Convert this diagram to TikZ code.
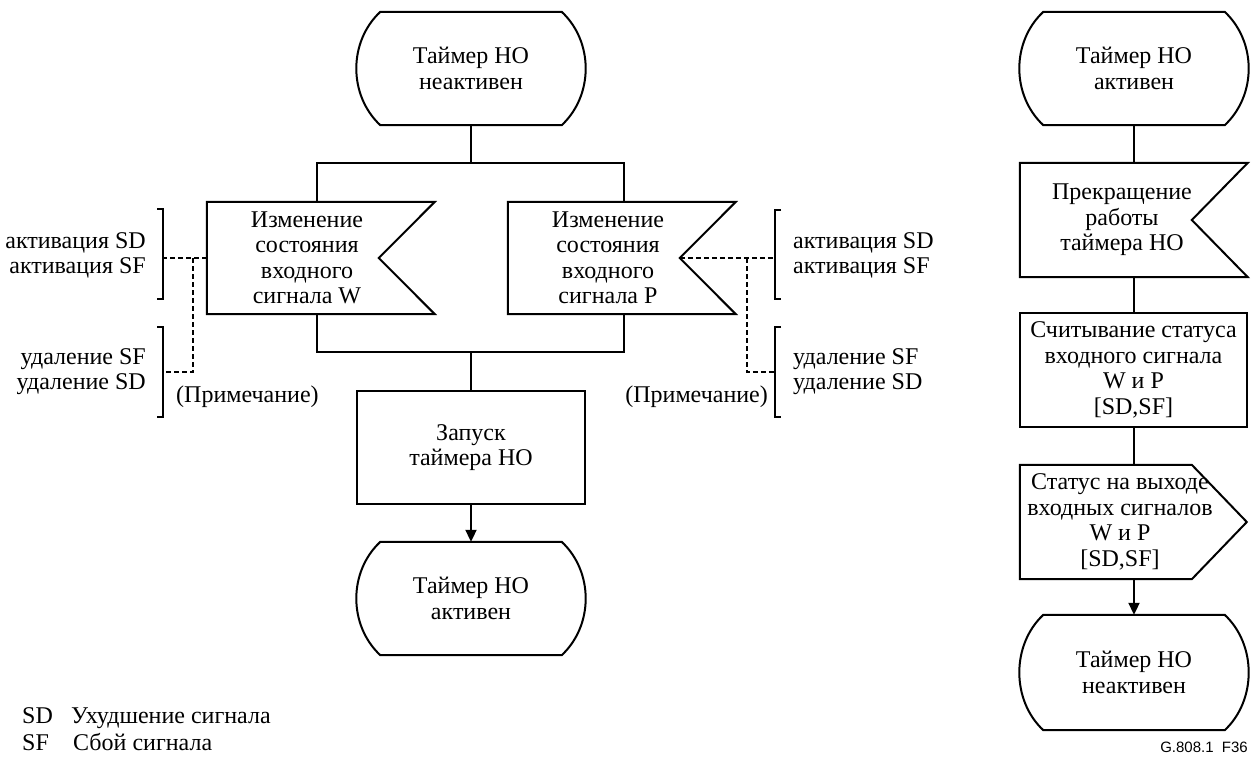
\documentclass[tikz,border=0pt]{standalone}
\usepackage{fontspec}
\setmainfont{Liberation Serif}
\newfontfamily\labfont{Liberation Sans}
\usetikzlibrary{calc,arrows.meta}
\newcommand\stateoutline[1]{%
  \draw[ln] ($(#1.north west)+(24,0)$) -- ($(#1.north east)+(-24,0)$)
    .. controls ($(#1.north east)+(8,30)$) and ($(#1.south east)+(8,-30)$) .. ($(#1.south east)+(-24,0)$)
    -- ($(#1.south west)+(24,0)$)
    .. controls ($(#1.south west)+(-8,-30)$) and ($(#1.north west)+(-8,30)$) .. cycle;}
\newcommand\inoutline[1]{%
  \draw[ln] (#1.north west) -- ($(#1.north west)+(228,0)$) -- ($(#1.west)+(172,0)$)
    -- ($(#1.south west)+(228,0)$) -- (#1.south west) -- cycle;}
\begin{document}
\begin{tikzpicture}[x=1pt,y=-1pt,
  every node/.style={font=\fontsize{24}{25.5}\selectfont, inner sep=0pt},
  ln/.style={line width=2pt, line join=miter},
  dsh/.style={line width=1.7pt, dash pattern=on 5pt off 3pt},
  brk/.style={line width=1.4pt},
  box/.style={minimum width=228pt, minimum height=113pt, align=center},
  stbox/.style={minimum width=229pt, minimum height=113pt, align=center},
  inbox/.style={minimum width=200pt, minimum height=112pt, align=center},
  arr/.style={ln, -{Triangle[length=12pt,width=11pt]}},
]
\useasboundingbox (0,0) rectangle (1256,756);

% ---------- left flow ----------
\node[stbox] (s1) at (471,68.5) {Таймер НО\\неактивен};
\stateoutline{s1}
\node[inbox] (w) at (307,258) {Изменение\\состояния\\входного\\сигнала W};
\inoutline{w}
\node[inbox] (p) at (608,258) {Изменение\\состояния\\входного\\сигнала P};
\inoutline{p}
\node[box] (start) at (471,447.5) {Запуск\\таймера НО};
\draw[ln] (start.north west) rectangle (start.south east);
\node[stbox] (s2) at (471,598.5) {Таймер НО\\активен};
\stateoutline{s2}

\coordinate (jt) at ($(s1.south)+(0,38)$);
\coordinate (jb) at ($(start.north)+(0,-39)$);
\draw[ln] (s1.south) -- (jt);
\draw[ln] ($(w.north)+(10,0)$) |- (jt) -| ($(p.north)+(16,0)$);
\draw[ln] ($(w.south)+(10,0)$) |- (jb) -| ($(p.south)+(16,0)$);
\draw[ln] (jb) -- (start.north);
\draw[arr] (start.south) -- (s2.north);

% ---------- left annotations ----------
\coordinate (b1) at (163,258);
\coordinate (b2) at (163,372);
\draw[brk] (157,209) -- (163,209) -- (163,299) -- (157,299);
\draw[brk] (157,327) -- (163,327) -- (163,417) -- (157,417);
\draw[dsh] (w.west) -- (b1);
\draw[dsh] ($(w.west)+(-14,0)$) |- (b2);
\node[anchor=east, align=right] (la1) at (146,255.5) {активация SD\\активация SF};
\node[anchor=east, align=right] (la2) at (146,371.5) {удаление SF\\удаление SD};
\node[anchor=west] (n1) at (176,397) {(Примечание)};

% ---------- right annotations of P ----------
\coordinate (b3) at (775,258);
\coordinate (b4) at (775,372);
\draw[brk] (781,210) -- (775,210) -- (775,299) -- (781,299);
\draw[brk] (781,327) -- (775,327) -- (775,417) -- (781,417);
\draw[dsh] ($(p.west)+(172,0)$) -- (b3);
\draw[dsh] ($(p.west)+(239,0)$) |- (b4);
\node[anchor=west, align=left] (ra1) at (793,255.5) {активация SD\\активация SF};
\node[anchor=west, align=left] (ra2) at (793,371.5) {удаление SF\\удаление SD};
\node[anchor=east] (n2) at (768,397) {(Примечание)};

% ---------- right flow ----------
\node[stbox] (s3) at (1134,68.5) {Таймер НО\\активен};
\stateoutline{s3}
\node[inbox, minimum height=114pt] (stop) at (1122,220) {Прекращение\\работы\\таймера НО};
\draw[ln] ($(stop.north west)+(-2,0)$) -- ($(stop.north west)+(226,0)$) -- ($(stop.west)+(170,0)$)
  -- ($(stop.south west)+(226,0)$) -- ($(stop.south west)+(-2,0)$) -- cycle;
\node[box, minimum width=227pt, minimum height=114pt] (rd) at (1133.5,370) {Считывание статуса\\входного сигнала\\W и P\\{[SD,SF]}};
\draw[ln] (rd.north west) rectangle (rd.south east);
\node[minimum width=200pt, minimum height=114pt, align=center] (out) at (1120,522) {Статус на выходе\\входных сигналов\\W и P\\{[SD,SF]}};
\draw[ln] (out.north west) -- ($(out.north west)+(172,0)$) -- ($(out.west)+(227,0)$)
  -- ($(out.south west)+(172,0)$) -- (out.south west) -- cycle;
\node[stbox, minimum height=115pt] (s4) at (1134,672.5) {Таймер НО\\неактивен};
\stateoutline{s4}

\draw[ln] (s3.south) -- (s3.south |- stop.north);
\draw[ln] (s3.south |- stop.south) -- (s3.south |- rd.north);
\draw[ln] (s3.south |- rd.south) -- (s3.south |- out.north);
\draw[arr] (s3.south |- out.south) -- (s4.north);

% ---------- legend ----------
\node[anchor=base west] (k1) at (22,723) {SD};
\node[anchor=base west] (v1) at (71,723) {Ухудшение сигнала};
\node[anchor=base west] (k2) at (22,750) {SF};
\node[anchor=base west] (v2) at (73,750) {Сбой сигнала};
\node[anchor=base east, font=\labfont\fontsize{15}{18}\selectfont] (fig) at (1248,752) {G.808.1\ \ F36};
\end{tikzpicture}
\end{document}
